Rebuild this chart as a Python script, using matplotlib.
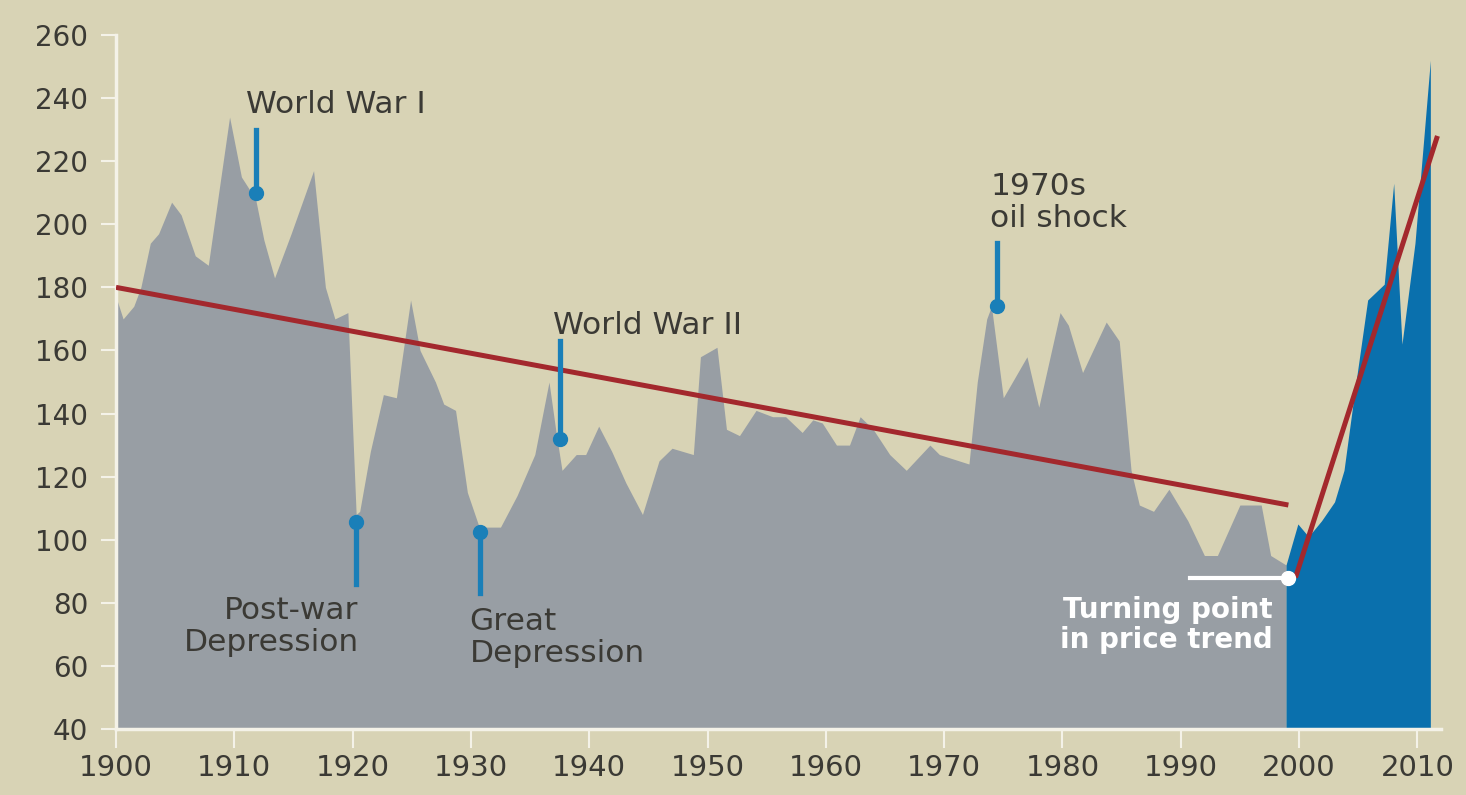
import matplotlib.pyplot as plt

# Price index, 1900 to 1999 (grey area)
hist_years = [1900.0, 1900.6, 1901.5, 1902.1, 1902.9, 1903.6, 1904.7, 1905.5, 1906.7, 1907.8,
              1909.6, 1910.6, 1911.8, 1912.5, 1913.4, 1914.8, 1916.7, 1917.7, 1918.5, 1919.6,
              1920.3, 1920.6, 1921.5, 1922.6, 1923.7, 1924.9, 1925.7, 1927.0, 1927.7, 1928.7,
              1929.7, 1930.7, 1932.5, 1933.9, 1935.4, 1936.6, 1937.2, 1937.7, 1938.9, 1939.7,
              1940.8, 1941.9, 1943.1, 1944.5, 1945.9, 1947.0, 1948.8, 1949.4, 1950.8, 1951.6,
              1952.7, 1954.1, 1955.5, 1956.6, 1958.0, 1958.9, 1959.7, 1960.9, 1962.0, 1962.9,
              1964.0, 1965.4, 1966.8, 1968.8, 1969.6, 1972.1, 1972.8, 1973.6, 1974.0, 1975.0,
              1977.0, 1978.0, 1979.8, 1980.5, 1981.7, 1983.7, 1984.8, 1985.8, 1986.5, 1987.7,
              1989.0, 1990.6, 1992.0, 1993.1, 1995.0, 1996.8, 1997.6, 1998.9]
hist_vals = [177, 170, 174, 180, 194, 197, 207, 203, 190, 187,
             234, 215, 208, 195, 183, 197, 217, 180, 170, 172,
             108, 109, 128, 146, 145, 176, 160, 150, 143, 141,
             115, 104, 104, 114, 127, 150, 134, 122, 127, 127,
             136, 128, 118, 108, 125, 129, 127, 158, 161, 135,
             133, 141, 139, 139, 134, 138, 137, 130, 130, 139,
             135, 127, 122, 130, 127, 124, 150, 170, 174, 145,
             158, 142, 172, 168, 153, 169, 163, 122, 111, 109,
             116, 106, 95, 95, 111, 111, 95, 92]

# Price index after the turning point (blue area)
recent_years = [1998.9, 1999.9, 2000.8, 2001.9, 2003.0, 2003.8, 2004.7, 2005.8, 2007.2,
                2008.0, 2008.7, 2009.8, 2011.1]
recent_vals = [92, 105, 101, 106, 112, 122, 147, 176, 181, 213, 162, 194, 252]

# Trend lines
trend_old_years = [1900, 1999.1]
trend_old_vals = [180, 111]
trend_new_years = [1999.7, 2011.7]
trend_new_vals = [88, 228]

# Event markers: (label, dot year, dot value, stem end value, text x, text y, alignment)
events = [
    ("World War I", 1911.8, 210, 230, 1911.0, 238, "left"),
    ("Post-war\nDepression", 1920.3, 105.5, 86, 1920.5, 72.5, "right"),
    ("Great\nDepression", 1930.8, 102.5, 83, 1929.9, 69, "left"),
    ("World War II", 1937.5, 132, 163, 1936.9, 168, "left"),
    ("1970s\noil shock", 1974.5, 174, 194, 1973.9, 207, "left"),
]

xticks = list(range(1900, 2011, 10))
yticks = list(range(40, 261, 20))

bg = "#d8d3b5"
grey = "#989ea4"
blue = "#0a70ad"
red = "#a3282d"
marker_blue = "#1a7fb8"
txt = "#3b3a35"
light = "#f4f2e8"

fig = plt.figure(figsize=(14.66, 7.95), dpi=100, facecolor=bg)
ax = fig.add_axes([116 / 1466, 1 - 729 / 795, (1441 - 116) / 1466, (729 - 35) / 795])
ax.set_facecolor(bg)

ax.fill_between(hist_years, hist_vals, 40, color=grey, lw=0, zorder=1)
ax.fill_between(recent_years, recent_vals, 40, color=blue, lw=0, zorder=1)

ax.plot(trend_old_years, trend_old_vals, color=red, lw=3.6, solid_capstyle="butt", zorder=3)
ax.plot(trend_new_years, trend_new_vals, color=red, lw=3.6, solid_capstyle="butt", zorder=3)

for label, yr, val, end, tx, ty, ha in events:
    ax.plot([yr, yr], [val, end], color=marker_blue, lw=3.8, zorder=4)
    ax.plot(yr, val, "o", color=marker_blue, ms=10, zorder=5)
    ax.text(tx, ty, label, ha=ha, va="center", fontsize=22.5, color=txt,
            linespacing=1.12, zorder=6)

# Turning point
ax.plot([1990.8, 1999.1], [88, 88], color="white", lw=3, zorder=4)
ax.plot(1999.1, 88, "o", color="white", ms=10, zorder=5)
ax.text(1997.8, 73, "Turning point\nin price trend", ha="right", va="center",
        fontsize=20, fontweight="bold", color="white", linespacing=1.12, zorder=6)

ax.set_xlim(1900, 2012)
ax.set_ylim(40, 260)
ax.set_xticks(xticks)
ax.set_yticks(yticks)
ax.set_xticklabels([str(x) for x in xticks], fontsize=21)
ax.set_yticklabels([str(y) for y in yticks], fontsize=20)
ax.tick_params(axis="y", colors=light, labelcolor=txt, length=11, width=1.5, pad=9)
ax.tick_params(axis="x", colors=light, labelcolor=txt, length=14, width=1.5, pad=4)

for side in ["top", "right"]:
    ax.spines[side].set_visible(False)
for side in ["left", "bottom"]:
    ax.spines[side].set_color(light)
    ax.spines[side].set_linewidth(2.5)

fig.savefig("out.png", dpi=100, facecolor=bg)
